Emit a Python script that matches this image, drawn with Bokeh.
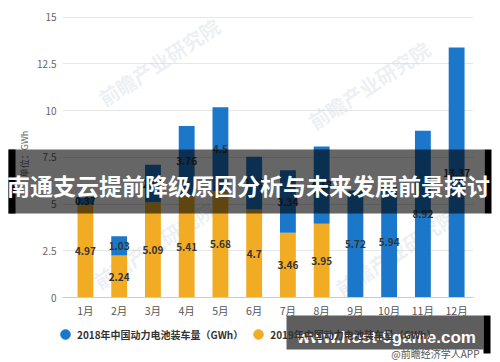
from bokeh.plotting import figure
from bokeh.layouts import column
from bokeh.models import (Range1d, FixedTicker, Label, Legend, LegendItem, ColumnDataSource)
from bokeh.embed import file_html
from bokeh.resources import INLINE
from bokeh.core.properties import value

# ---------------- data ----------------
months = ["1月", "2月", "3月", "4月", "5月", "6月", "7月", "8月", "9月", "10月", "11月", "12月"]
sales_2019 = [4.97, 2.24, 5.09, 5.41, 5.68, 4.7, 3.46, 3.95]
sales_2018 = [0.37, 1.03, 2.01, 3.76, 4.5, 2.83, 3.34, 4.13, 5.72, 5.94, 8.92, 13.37]
y_ticks = [0, 2.5, 5, 7.5, 10, 12.5, 15]
y_tick_labels = ["0", "2.5", "5", "7.5", "10", "12.5", "15"]
series_names = ["2018年中国动力电池装车量（GWh）", "2019年中国动力电池装车量（GWh）"]
title_text = "南通支云提前降级原因分析与未来发展前景探讨"
site_text = "www.host-9game.com"
source_text = "@前瞻经济学人APP"
watermark_text = "前瞻产业研究院"

BLUE = "#1a77c9"
YELLOW = "#f2ac24"
CJK = "Noto Sans CJK SC"
W, H = 500, 362
NAN = float("nan")

# ---------------- derived ----------------
xs = list(range(len(months)))
base = sales_2019 + [0] * (len(months) - len(sales_2019))
top18 = [b + v for b, v in zip(base, sales_2018)]

src19 = ColumnDataSource(dict(x=xs[:len(sales_2019)], top=sales_2019,
                              mid=[v / 2 for v in sales_2019],
                              lab=[str(v) for v in sales_2019]))
src18 = ColumnDataSource(dict(x=xs, bottom=base, top=top18,
                              mid=[(b + t) / 2 for b, t in zip(base, top18)],
                              lab=[str(v) for v in sales_2018]))

# ---------------- main chart ----------------
p = figure(width=W, height=H, output_backend="svg", toolbar_location=None, tools="",
           x_range=Range1d(-0.68, 11.5), y_range=Range1d(0, 15.35),
           min_border_left=62, min_border_right=27, min_border_top=10, min_border_bottom=65)
p.frame_align = False
p.outline_line_color = None
p.background_fill_color = "white"
p.border_fill_color = "white"

for wx, wy in [(38, 197), (248, 174), (33, 14), (275, 7)]:
    p.add_layout(Label(x=wx, y=wy, x_units="screen", y_units="screen", text=watermark_text,
                       angle=0.58, text_font=CJK, text_font_size="20px", text_font_style="bold",
                       text_color="#c9d3dd", text_alpha=0.35, text_baseline="middle",
                       level="underlay"))

p.vbar(x="x", bottom=0, top="top", width=0.47, source=src19, color=YELLOW, line_color=None)
p.vbar(x="x", bottom="bottom", top="top", width=0.47, source=src18, color=BLUE, line_color=None)

lbl_kw = dict(text_align="center", text_baseline="middle", text_font=value(CJK),
              text_font_size="10px", text_font_style="bold", text_color="#333333")
p.text(x="x", y="mid", text="lab", source=src19, **lbl_kw)
p.text(x="x", y="mid", text="lab", source=src18, **lbl_kw)

p.xgrid.visible = False
p.ygrid.ticker = FixedTicker(ticks=y_ticks)
p.ygrid.grid_line_color = "#e6e6e6"

p.yaxis.ticker = FixedTicker(ticks=y_ticks)
p.yaxis.major_label_overrides = {float(t): l for t, l in zip(y_ticks, y_tick_labels)}
p.yaxis.axis_line_color = None
p.yaxis.major_tick_line_color = None
p.yaxis.minor_tick_line_color = None
p.yaxis.major_tick_out = 0
p.yaxis.minor_tick_out = 0
p.yaxis.major_label_standoff = 6
p.yaxis.major_label_text_font = CJK
p.yaxis.major_label_text_font_size = "10px"
p.yaxis.major_label_text_color = "#666666"
p.yaxis.axis_label = "单位：GWh"
p.yaxis.axis_label_text_font = CJK
p.yaxis.axis_label_text_font_size = "9px"
p.yaxis.axis_label_text_font_style = "normal"
p.yaxis.axis_label_text_color = "#666666"
p.yaxis.axis_label_standoff = 3

p.xaxis.ticker = FixedTicker(ticks=xs)
p.xaxis.major_label_overrides = {i: m for i, m in zip(xs, months)}
p.xaxis.axis_line_color = "#cccccc"
p.xaxis.major_tick_line_color = None
p.xaxis.minor_tick_line_color = None
p.xaxis.major_tick_out = 0
p.xaxis.minor_tick_out = 0
p.xaxis.major_label_standoff = 5
p.xaxis.major_label_text_font = CJK
p.xaxis.major_label_text_font_size = "10.5px"
p.xaxis.major_label_text_color = "#555555"

# ---------------- overlay (legend, note, banners), pixel coordinates ----------------
q = figure(width=W, height=H, output_backend="svg", toolbar_location=None, tools="",
           x_range=Range1d(0, W), y_range=Range1d(H, 0),
           min_border=0, x_axis_location=None, y_axis_location=None,
           styles={"position": "absolute", "top": "0px", "left": "0px"})
q.frame_align = False
q.outline_line_color = None
q.background_fill_alpha = 0
q.border_fill_alpha = 0
q.grid.visible = False

r1 = q.scatter(x=[NAN], y=[NAN], marker="circle", size=10, color=BLUE)
r2 = q.scatter(x=[NAN], y=[NAN], marker="circle", size=10, color=YELLOW)
legend = Legend(items=[LegendItem(label=series_names[0], renderers=[r1]),
                       LegendItem(label=series_names[1], renderers=[r2])],
                orientation="horizontal", location=(53, 16), border_line_color=None,
                background_fill_alpha=0, padding=0, margin=0, spacing=3, label_standoff=0,
                glyph_width=24, glyph_height=24, label_height=24,
                label_text_font=CJK, label_text_font_size="10px",
                label_text_font_style="bold", label_text_color="#333333", level="underlay")
q.add_layout(legend)

banners = ColumnDataSource(dict(
    left=[8, 8, 484, 286, 483],
    right=[484, 15, 491, 483, 490],
    top=[149, 149, 149, 315, 315],
    bottom=[213, 213, 213, 349, 353],
    color=["black", "black", "black", "#5e5e5e", "black"],
    alpha=[0.6, 1, 1, 1, 1]))

q.text(x=[479], y=[353], text=[source_text], text_align="right", text_baseline="middle",
       text_font=value(CJK), text_font_size="10px", text_color="#555555")
q.quad(left="left", right="right", top="top", bottom="bottom", source=banners,
       fill_color="color", fill_alpha="alpha", line_color=None)
q.text(x=[248], y=[184], text=[title_text], text_align="center", text_baseline="middle",
       text_font=value(CJK), text_font_size="23px", text_font_style="bold", text_color="white")
q.text(x=[386], y=[337], text=[site_text], text_align="center", text_baseline="middle",
       text_font=value("Liberation Sans"), text_font_size="17px", text_font_style="bold",
       text_color="white")

root = column(p, q, styles={"position": "relative"})
open("out.html", "w").write(file_html(root, INLINE))
